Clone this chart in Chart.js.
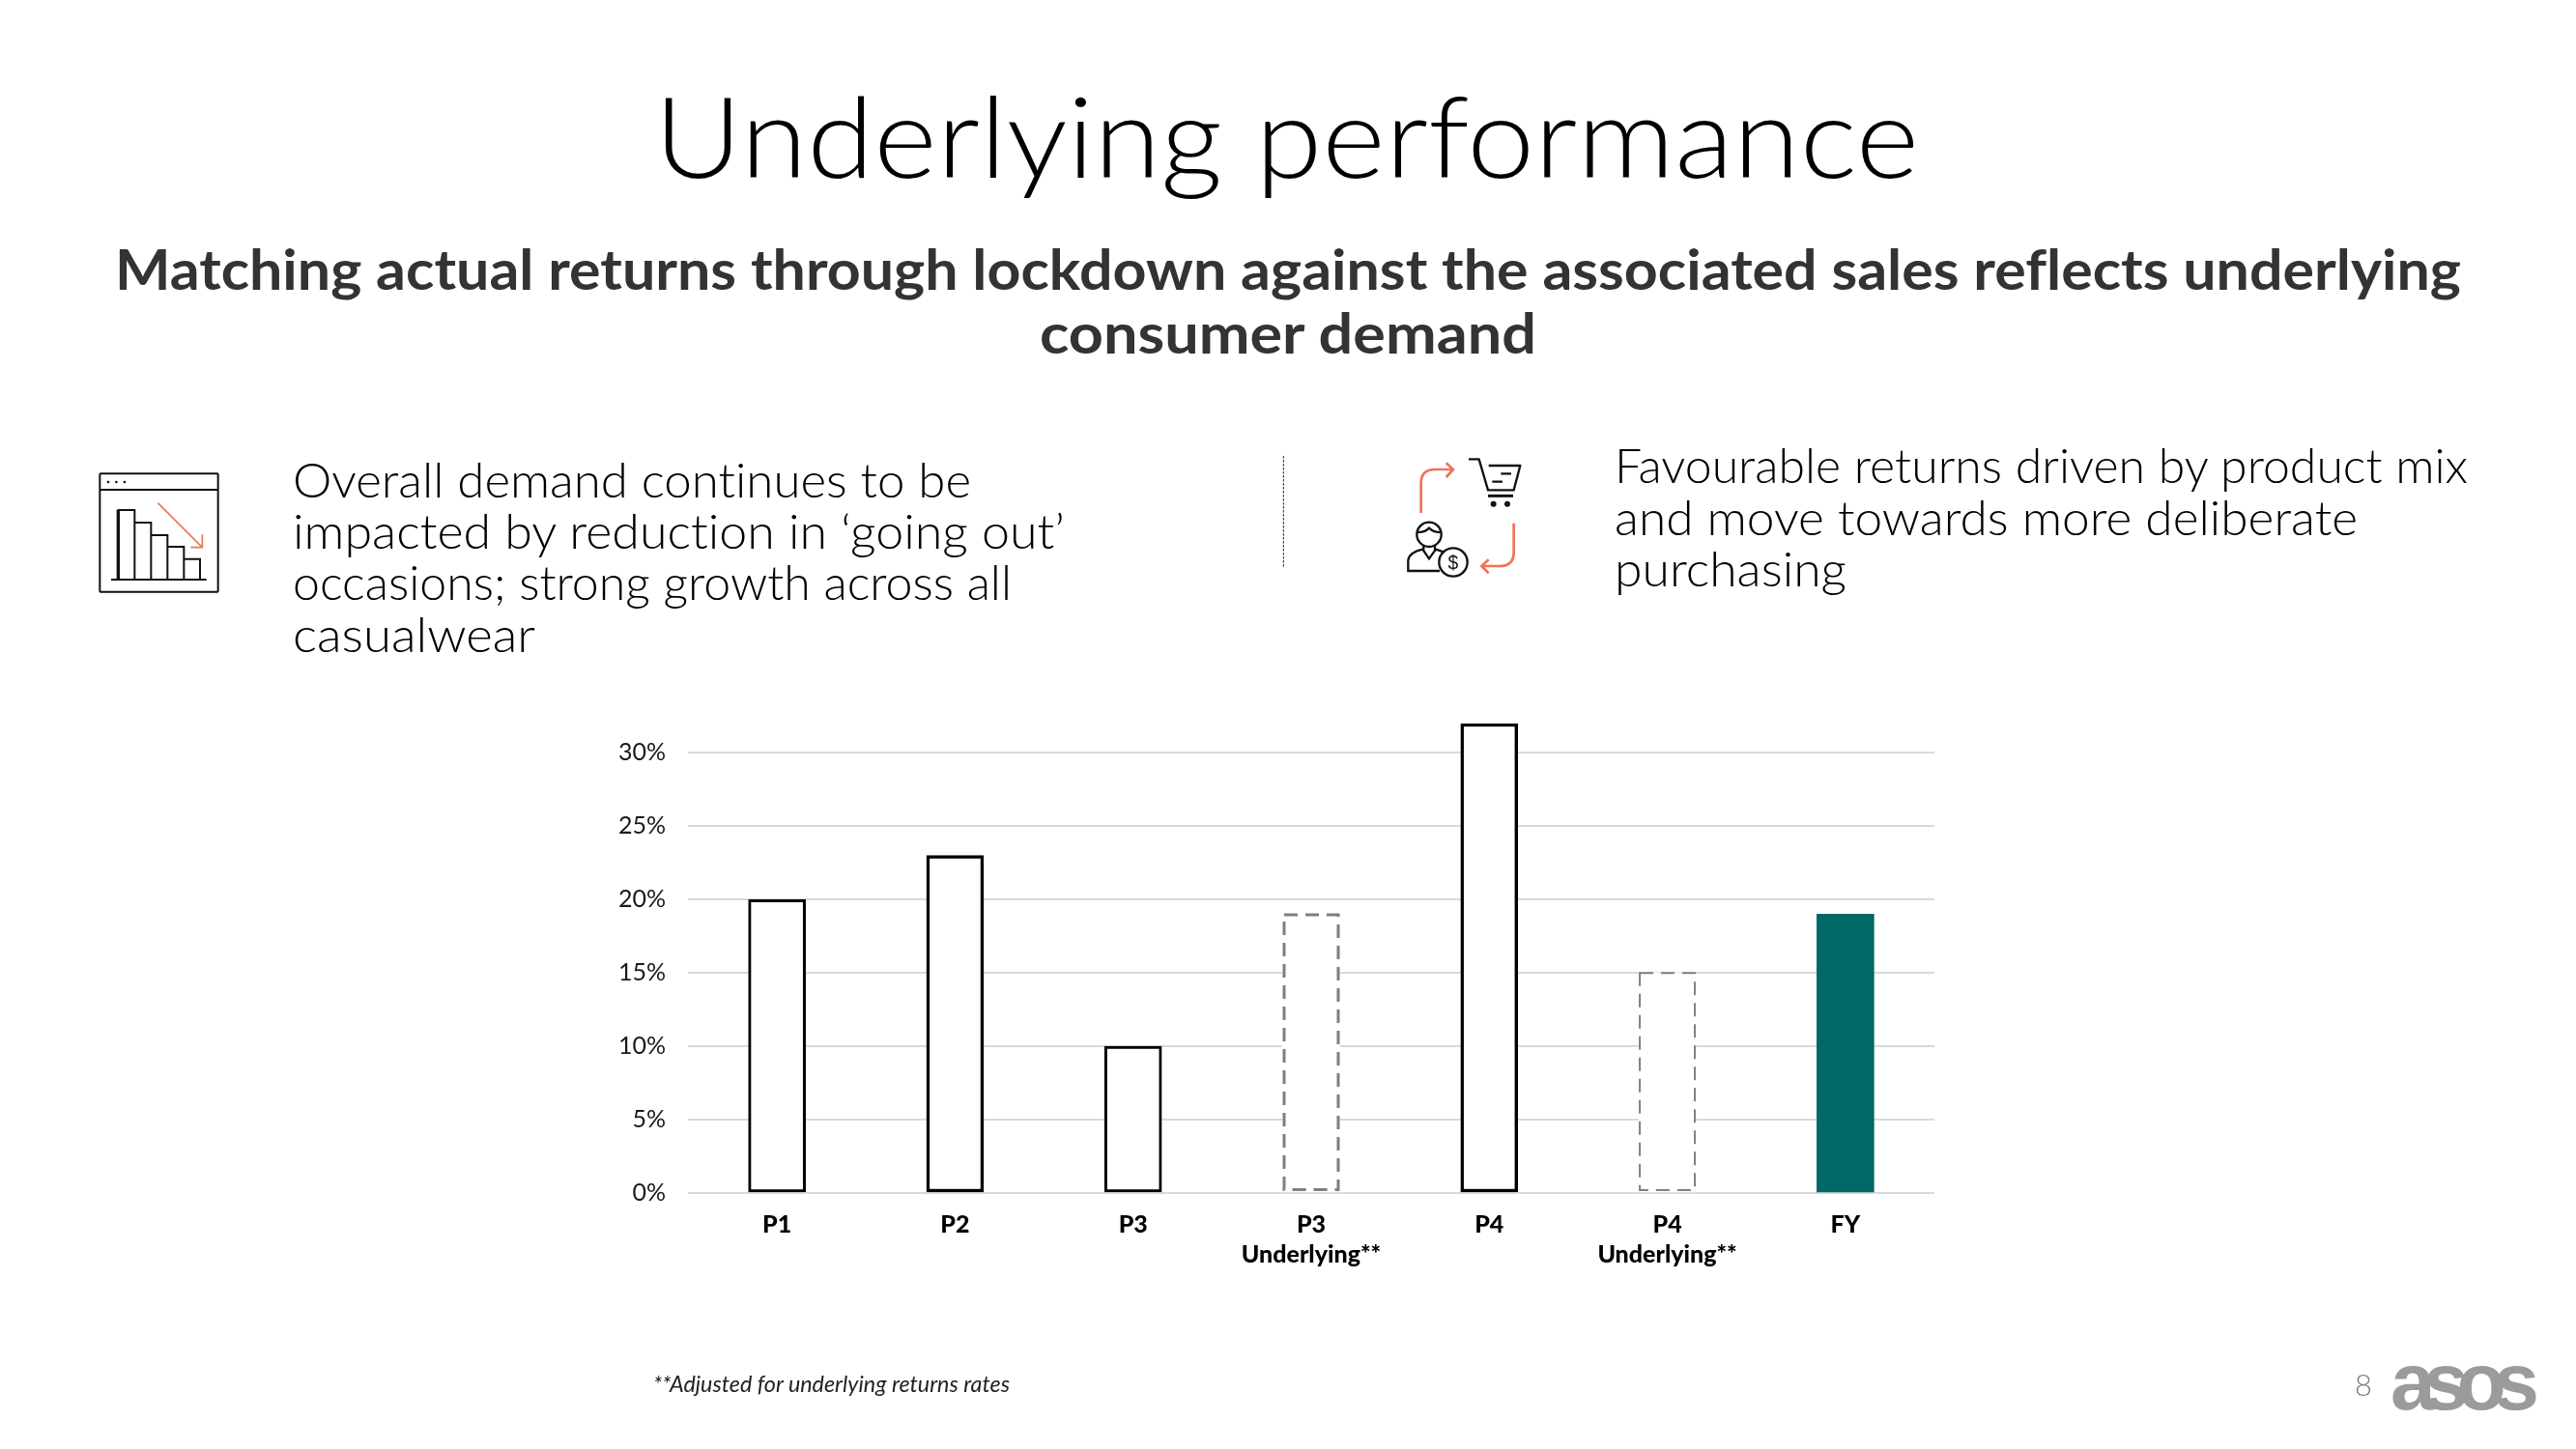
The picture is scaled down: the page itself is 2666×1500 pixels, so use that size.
<!DOCTYPE html>
<html>
<head>
<meta charset="utf-8">
<title>Underlying performance</title>
<script src="https://cdn.jsdelivr.net/npm/chart.js@4"></script>
<style>
html,body{margin:0;padding:0;background:#fff;width:2666px;height:1500px;overflow:hidden}
#c{position:absolute;left:0;top:0}
#o{position:absolute;left:0;top:0}
text{font-family:Lato,sans-serif;font-variant-ligatures:none}
.body{font-size:50px;font-weight:300;fill:#000}
</style>
</head>
<body>
<canvas id="c" width="2666" height="1500"></canvas>
<svg id="o" width="2666" height="1500" viewBox="0 0 2666 1500" xmlns="http://www.w3.org/2000/svg">
  <text x="677" y="184" textLength="1309" lengthAdjust="spacingAndGlyphs" font-size="116" font-weight="300" fill="#000">Underlying performance</text>
  <text x="119" y="300" textLength="2428" lengthAdjust="spacingAndGlyphs" font-size="58" font-weight="700" fill="#333">Matching actual returns through lockdown against the associated sales reflects underlying</text>
  <text x="1076" y="366" textLength="514" lengthAdjust="spacingAndGlyphs" font-size="58" font-weight="700" fill="#333">consumer demand</text>

  <text class="body" x="303" y="515" textLength="702" lengthAdjust="spacingAndGlyphs">Overall demand continues to be</text>
  <text class="body" x="303" y="568" textLength="799" lengthAdjust="spacingAndGlyphs">impacted by reduction in ‘going out’</text>
  <text class="body" x="303" y="621" textLength="744" lengthAdjust="spacingAndGlyphs">occasions; strong growth across all</text>
  <text class="body" x="303" y="675" textLength="251" lengthAdjust="spacingAndGlyphs">casualwear</text>

  <text class="body" x="1671" y="500" textLength="883" lengthAdjust="spacingAndGlyphs">Favourable returns driven by product mix</text>
  <text class="body" x="1671" y="554" textLength="769" lengthAdjust="spacingAndGlyphs">and move towards more deliberate</text>
  <text class="body" x="1671" y="607" textLength="240" lengthAdjust="spacingAndGlyphs">purchasing</text>

  <text x="676" y="1441" textLength="369" lengthAdjust="spacingAndGlyphs" font-size="23" font-style="italic" font-weight="400" fill="#222">**Adjusted for underlying returns rates</text>
  <text x="2437" y="1445" font-size="31" font-weight="300" fill="#808080" text-anchor="start">8</text>
  <text x="2474" y="1459" textLength="154" lengthAdjust="spacing" font-size="84" font-weight="700" style="font-family:'Liberation Sans'" fill="#9b9b9b">asos</text>

  <!-- chart-down icon -->
  <g transform="translate(80,470) scale(0.33333)" fill="none" stroke="#111" stroke-width="6">
    <rect x="70" y="61" width="367" height="367" rx="3"/>
    <path d="M70 111H437"/>
    <g fill="#111" stroke="none"><circle cx="96" cy="87" r="4"/><circle cx="121" cy="87" r="4"/><circle cx="147" cy="87" r="4"/></g>
    <path d="M127 390V174H178V390M178 213H229V390M229 252H280V390M280 288H331V390M331 326H381V390" />
    <path d="M127 390V174" stroke-width="10"/>
    <path d="M105 390H401"/>
    <path d="M250 152L388 290M388 250V290H352" stroke="#e8755a" stroke-width="5"/>
  </g>

  <!-- divider + shopper icon -->
  <g transform="translate(1300,450) scale(0.33333)" fill="none">
    <path d="M85 66V410" stroke="#222" stroke-width="3" stroke-dasharray="8 4"/>
    <g stroke="#ee7358" stroke-width="8">
      <path d="M512 243V150Q512 108 555 108H610M590 88L612 108L590 132"/>
      <path d="M800 275V365Q800 408 755 408H700M722 388L700 408L722 430"/>
    </g>
    <g stroke="#111" stroke-width="7">
      <path d="M660 76H692L720 172H800L820 96H722" stroke-linejoin="round"/>
      <path d="M760 121H792M733 146H765"/>
      <path d="M720 190H798" stroke-width="9"/>
      <circle cx="737" cy="215" r="9" fill="#111" stroke="none"/>
      <circle cx="780" cy="215" r="9" fill="#111" stroke="none"/>
      <circle cx="537" cy="310" r="38"/>
      <path d="M500 302Q520 306 537 290Q555 306 575 302"/>
      <path d="M520 345V358M555 345V358"/>
      <path d="M570 423H472V390Q475 366 517 356L537 385L558 356L582 364"/>
      <circle cx="612" cy="396" r="44"/>
    </g>
    <text x="612" y="416" text-anchor="middle" font-size="58" fill="#111" style="font-family:'Liberation Sans'">$</text>
  </g>
</svg>

<script>
// Data
const categories = [['P1'], ['P2'], ['P3'], ['P3', 'Underlying**'], ['P4'], ['P4', 'Underlying**'], ['FY']];
const returnsChange = [20, 23, 10, 19, 32, 15, 19];
const yTickValues = [0, 5, 10, 15, 20, 25, 30];
const yTickLabels = ['0%', '5%', '10%', '15%', '20%', '25%', '30%'];

// Per-bar styling
const fills = ['#ffffff', '#ffffff', '#ffffff', '#ffffff', '#ffffff', '#ffffff', '#006866'];
const solidBorderColors = ['#000000', '#000000', '#000000', 'rgba(0,0,0,0)', '#000000', 'rgba(0,0,0,0)', 'rgba(0,0,0,0)'];
const solidBorderWidths = [3, 3.5, 3, 0, 3.5, 0, 0];
const dashedBorderWidths = [0, 0, 0, 3, 0, 2, 0];

const dashedBars = {
  id: 'dashedBars',
  afterDatasetsDraw(chart) {
    const ctx = chart.ctx;
    chart.getDatasetMeta(0).data.forEach((bar, i) => {
      const lw = dashedBorderWidths[i];
      if (!lw) return;
      const p = bar.getProps(['x', 'y', 'base', 'width'], true);
      ctx.save();
      ctx.strokeStyle = '#7f7f7f';
      ctx.lineWidth = lw;
      ctx.setLineDash([14, 8]);
      ctx.strokeRect(p.x - p.width / 2 + lw / 2, p.y + lw / 2 - 1, p.width - lw, p.base - p.y - lw);
      ctx.restore();
    });
  }
};

new Chart(document.getElementById('c'), {
  type: 'bar',
  data: {
    labels: categories,
    datasets: [{
      data: returnsChange,
      backgroundColor: fills,
      borderColor: solidBorderColors,
      borderWidth: solidBorderWidths,
      borderSkipped: false,
      barThickness: 59
    }]
  },
  plugins: [dashedBars],
  options: {
    responsive: false,
    animation: false,
    events: [],
    layout: { padding: { left: 0, right: 664, top: 749, bottom: 0 } },
    plugins: { legend: { display: false }, title: { display: false }, tooltip: { enabled: false } },
    scales: {
      x: {
        afterFit(s) { s.height = 265; },
        grid: { display: false, drawTicks: false },
        border: { display: false },
        ticks: {
          color: '#000',
          padding: 18,
          maxRotation: 0,
          autoSkip: false,
          font: { family: 'Lato', size: 25, weight: '900', lineHeight: 1.22 }
        }
      },
      y: {
        min: 0,
        max: 32,
        afterFit(s) { s.width = 712; },
        afterBuildTicks(s) { s.ticks = yTickValues.map(v => ({ value: v })); },
        grid: { color: '#d9d9d9', lineWidth: 2, drawTicks: false },
        border: { display: false },
        ticks: {
          color: '#1a1a1a',
          padding: 23,
          font: { family: 'Lato', size: 25, weight: '400' },
          callback(v) { return yTickLabels[yTickValues.indexOf(v)]; }
        }
      }
    }
  }
});
</script>
</body>
</html>
